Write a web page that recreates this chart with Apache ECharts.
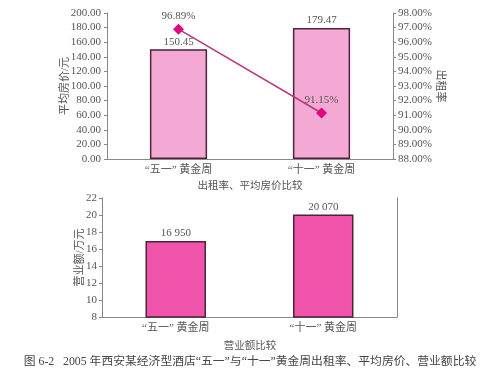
<!DOCTYPE html>
<html>
<head>
<meta charset="utf-8">
<script src="https://cdn.jsdelivr.net/npm/echarts@6/dist/echarts.min.js"></script>
<style>
  html, body { margin: 0; padding: 0; background: #fff; }
  #main { width: 500px; height: 377px; }
</style>
</head>
<body>
<div id="main"></div>
<script>
// 数据
var categories = ['“五一” 黄金周', '“十一” 黄金周']
var avgPrice = [150.45, 179.47]      // 平均房价/元
var occupancy = [96.89, 91.15]       // 出租率 %
var revenue = [16.95, 20.07]         // 营业额/万元
var revenueLabels = ['16 950', '20 070']

var font = '"Liberation Serif", "Noto Sans CJK SC", serif'
var textColor = '#555'
var axisColor = '#888'

var chart = echarts.init(document.getElementById('main'))
chart.setOption({
  animation: false,
  textStyle: { fontFamily: font, color: textColor },
  title: [
    { text: '出租率、平均房价比较', left: 'center', top: 176,
      textStyle: { fontSize: 10.5, fontWeight: 'normal', color: textColor, fontFamily: font } },
    { text: '营业额比较', left: 'center', top: 336,
      textStyle: { fontSize: 10.5, fontWeight: 'normal', color: textColor, fontFamily: font } },
    { text: '图 6-2   2005 年西安某经济型酒店“五一”与“十一”黄金周出租率、平均房价、营业额比较', left: 'center', top: 351,
      textStyle: { fontSize: 11.8, fontWeight: 'normal', color: '#444', fontFamily: font } }
  ],
  grid: [
    { left: 107, right: 107, top: 13, height: 146 },
    { left: 102, right: 103, top: 198, height: 119 }
  ],
  xAxis: [
    { type: 'category', gridIndex: 0, data: categories,
      axisLine: { lineStyle: { color: axisColor } }, axisTick: { show: false },
      axisLabel: { color: textColor, fontSize: 11, margin: 6, fontFamily: font } },
    { type: 'category', gridIndex: 1, data: categories,
      axisLine: { lineStyle: { color: axisColor } }, axisTick: { show: false },
      axisLabel: { color: textColor, fontSize: 11, margin: 6, fontFamily: font } }
  ],
  yAxis: [
    { type: 'value', gridIndex: 0, min: 0, max: 200, interval: 20,
      name: '平均房价/元', nameLocation: 'middle', nameGap: 36, nameRotate: 90, nameMoveOverlap: false,
      nameTextStyle: { color: textColor, fontSize: 11, fontFamily: font },
      axisLine: { show: true, lineStyle: { color: axisColor } },
      axisTick: { show: true, length: 3 }, splitLine: { show: false },
      axisLabel: { color: textColor, fontSize: 11, margin: 6, formatter: function (v) { return v.toFixed(2) } } },
    { type: 'value', gridIndex: 0, position: 'right', min: 88, max: 98, interval: 1,
      name: '出租率', nameLocation: 'middle', nameGap: 41, nameRotate: -90, nameMoveOverlap: false,
      nameTextStyle: { color: textColor, fontSize: 11, fontFamily: font },
      axisLine: { show: true, lineStyle: { color: axisColor } },
      axisTick: { show: true, length: 3 }, splitLine: { show: false },
      axisLabel: { color: textColor, fontSize: 11, margin: 5, formatter: function (v) { return v.toFixed(2) + '%' } } },
    { type: 'value', gridIndex: 1, min: 8, max: 22, interval: 2,
      name: '营业额/万元', nameLocation: 'middle', nameGap: 16, nameRotate: 90, nameMoveOverlap: false,
      nameTextStyle: { color: textColor, fontSize: 11, fontFamily: font },
      axisLine: { show: true, lineStyle: { color: axisColor } },
      axisTick: { show: true, length: 3 }, splitLine: { show: false },
      axisLabel: { color: textColor, fontSize: 11, margin: 5 } },
    { type: 'value', gridIndex: 1, position: 'right', min: 8, max: 22,
      axisLine: { show: true, lineStyle: { color: axisColor } },
      axisTick: { show: false }, axisLabel: { show: false }, splitLine: { show: false } }
  ],
  series: [
    {
      name: '平均房价', type: 'bar', xAxisIndex: 0, yAxisIndex: 0,
      data: avgPrice, barWidth: '40%',
      itemStyle: { color: '#f4a8d4', borderColor: '#4a2438', borderWidth: 1.5 },
      label: { show: true, position: 'top', distance: 2, color: textColor, fontSize: 11,
        formatter: function (p) { return p.value.toFixed(2) } }
    },
    {
      name: '出租率', type: 'line', xAxisIndex: 0, yAxisIndex: 1,
      data: occupancy, symbol: 'diamond', symbolSize: 11,
      lineStyle: { color: '#b8387e', width: 1.5 },
      itemStyle: { color: '#e3067f' },
      label: { show: true, position: 'top', distance: 2, color: textColor, fontSize: 11,
        formatter: function (p) { return p.value.toFixed(2) + '%' } }
    },
    {
      name: '营业额', type: 'bar', xAxisIndex: 1, yAxisIndex: 2,
      data: revenue, barWidth: '41%',
      itemStyle: { color: '#f054aa', borderColor: '#4a2438', borderWidth: 1.5 },
      label: { show: true, position: 'top', distance: 2, color: textColor, fontSize: 11,
        formatter: function (p) { return revenueLabels[p.dataIndex] } }
    }
  ]
})
</script>
</body>
</html>
